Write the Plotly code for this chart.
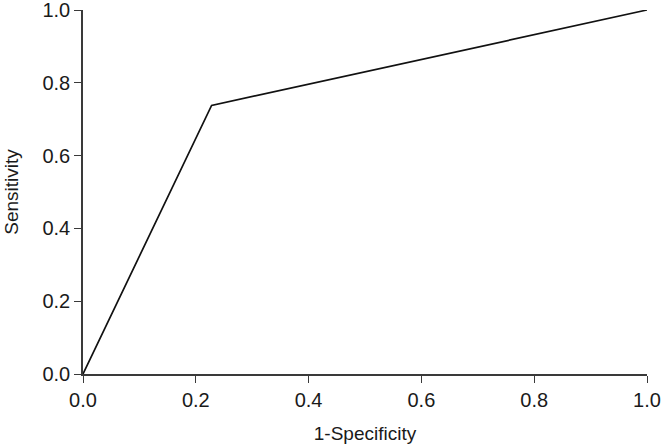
import plotly.graph_objects as go

fpr = [0.0, 0.228, 1.0]
tpr = [0.0, 0.738, 1.0]
ticks = [0.0, 0.2, 0.4, 0.6, 0.8, 1.0]
tick_labels = ["0.0", "0.2", "0.4", "0.6", "0.8", "1.0"]

FONT = "Liberation Sans, Arial, sans-serif"

fig = go.Figure()
fig.add_trace(go.Scatter(x=fpr, y=tpr, mode="lines",
                         line=dict(color="#111111", width=1.7),
                         showlegend=False, hoverinfo="skip"))

axis_common = dict(
    automargin=False,
    showgrid=False, zeroline=False, showline=True,
    linecolor="#3a3a3a", linewidth=1.5,
    ticks="outside", ticklen=7, tickwidth=1.2, tickcolor="#3a3a3a",
    tickvals=ticks, ticktext=tick_labels,
    tickfont=dict(family=FONT, size=20, color="#1a1a1a"),
    ticklabeloverflow="allow",
    range=[0, 1],
)

fig.update_layout(
    width=664, height=447,
    margin=dict(l=83, r=17, t=10, b=73),
    paper_bgcolor="white", plot_bgcolor="white",
    xaxis=dict(**axis_common,
               title=dict(text="1-Specificity", standoff=17,
                          font=dict(family=FONT, size=19, color="#1a1a1a"))),
    yaxis=dict(**axis_common,
               title=dict(text="Sensitivity", standoff=19,
                          font=dict(family=FONT, size=19, color="#1a1a1a"))),
)
fig.write_html("out.html", config={"displayModeBar": False},
               post_script="document.body.style.margin='0';")
